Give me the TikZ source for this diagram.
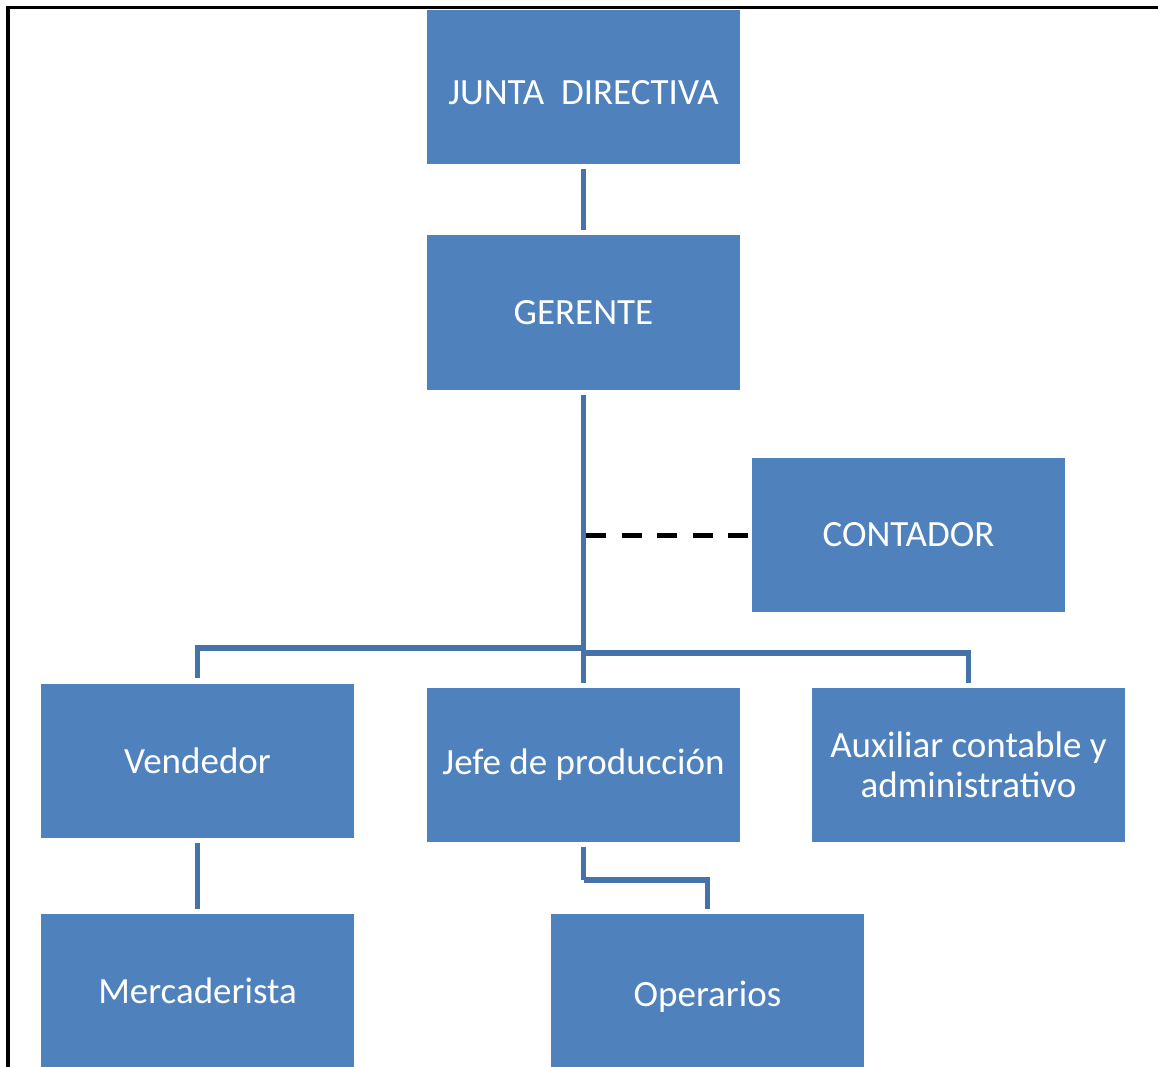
\documentclass[tikz,border=0pt]{standalone}
\usepackage{fontspec}
\setmainfont{Carlito}
\begin{document}
\definecolor{boxblue}{RGB}{79,129,189}
\definecolor{linkblue}{RGB}{70,114,170}
\begin{tikzpicture}[x=1pt,y=-1pt,
  unit/.style={rectangle, fill=boxblue, draw=none, inner sep=0pt,
    minimum width=313pt, minimum height=154pt, text=white,
    font=\fontsize{37}{40}\selectfont, align=center},
  link/.style={draw=linkblue, line width=5.5pt, shorten <=5pt, shorten >=5pt},
  staff/.style={draw=black, line width=5pt, dash pattern=on 20pt off 15.5pt}]
\useasboundingbox (0,0) rectangle (1158,1067);
\fill[white] (0,0) rectangle (1158,1067);
% page frame (top and left edges)
\draw[line width=3pt] (6,7.5) -- (1158,7.5);
\draw[line width=4pt] (8,6) -- (8,1067);

% units
\node[unit] (junta)   at (583.5,87)   {\raisebox{-6pt}[\height][\depth]{JUNTA\ \ DIRECTIVA}};
\node[unit] (gerente) at (583.5,312.5) {GERENTE};
\node[unit] (contador) at (908.5,535) {CONTADOR};
\node[unit] (vendedor) at (197.5,760.5) {Vendedor};
\node[unit] (jefe)     at (583.5,765) {Jefe de producción};
\node[unit] (aux)      at (968.5,765) {Auxiliar contable y\\administrativo};
\node[unit] (merc)     at (197.5,991) {Mercaderista};
\node[unit] (ope)      at (707.5,991) {\raisebox{-6pt}[\height][\depth]{Operarios}};

% branching points on the main trunk
\coordinate (bv) at (583.5,648);
\coordinate (ba) at (583.5,653);
\coordinate (bo) at (583.5,880);

% reporting lines
\draw[link] (junta.south) -- (gerente.north);
\draw[link] (gerente.south) -- (jefe.north);
\draw[link, shorten <=0pt] (bv) -| (vendedor.north);
\draw[link, shorten <=0pt] (ba) -| (aux.north);
\draw[link] (vendedor.south) -- (merc.north);
\draw[link, shorten >=0pt] (jefe.south) -- (bo);
\draw[link, shorten <=0pt] (bo) -| (ope.north);
% staff advisory line
\draw[staff] (586,535) -- (contador.west);
\end{tikzpicture}
\end{document}
